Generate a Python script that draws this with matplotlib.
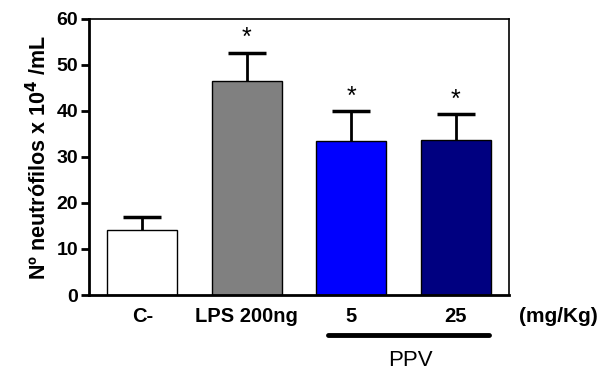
import matplotlib
matplotlib.use("Agg")
import matplotlib.pyplot as plt

categories = ["C-", "LPS 200ng", "5", "25"]
means = [14.1, 46.6, 33.5, 33.7]
errors = [2.9, 6.1, 6.4, 5.6]
colors = ["#FFFFFF", "#808080", "#0000FF", "#000080"]
significant = [False, True, True, True]

plt.rcParams['font.family'] = ['Liberation Sans', 'DejaVu Sans']

fig = plt.figure(figsize=(6.13, 3.73), dpi=100)
ax = fig.add_axes([89/613, 1-295/373, 420/613, 276/373])

x = list(range(len(categories)))
ax.bar(x, means, width=0.67, color=colors, edgecolor="black", linewidth=1.0, zorder=2)
eb = ax.errorbar(x, means, yerr=[[0]*len(errors), errors], fmt="none", ecolor="black",
                 elinewidth=2, capsize=13.5, capthick=2.5, zorder=1)
caplines = eb.lines[1]
if len(caplines) == 2:
    caplines[0].set_visible(False)
for xi, m, e, s in zip(x, means, errors, significant):
    if s:
        ax.text(xi, m + e + 0.6, "*", ha="center", va="bottom", fontsize=18)

ax.set_xlim(-0.51, 3.51)
ax.set_ylim(0, 60)
ax.set_yticks([0, 10, 20, 30, 40, 50, 60])
ax.set_xticks(x)
ax.set_xticklabels(categories, fontsize=14.5, fontweight="bold")
for lbl in ax.get_yticklabels():
    lbl.set_fontweight("bold")
    lbl.set_fontsize(14)
ax.tick_params(axis="y", direction="out", length=6, width=2, pad=2)
ax.tick_params(axis="x", length=0, pad=9)
for side in ["left", "bottom"]:
    ax.spines[side].set_linewidth(2)
for side in ["top", "right"]:
    ax.spines[side].set_linewidth(1.2)

ax.set_ylabel("Nº neutrófilos x 10$^\\mathbf{4}$ /mL", fontsize=15.5, fontweight="bold", labelpad=4)

fig.text(519/613, 1-316/373, "(mg/Kg)", fontsize=15, fontweight="bold", ha="left", va="center")
fig.add_artist(plt.Line2D([328/613, 489/613], [1-335/373, 1-335/373], color="black", linewidth=3.5,
                          solid_capstyle="round"))
fig.text(410/613, 1-360/373, "PPV", fontsize=16, ha="center", va="center")

fig.savefig("out.png", dpi=100)
